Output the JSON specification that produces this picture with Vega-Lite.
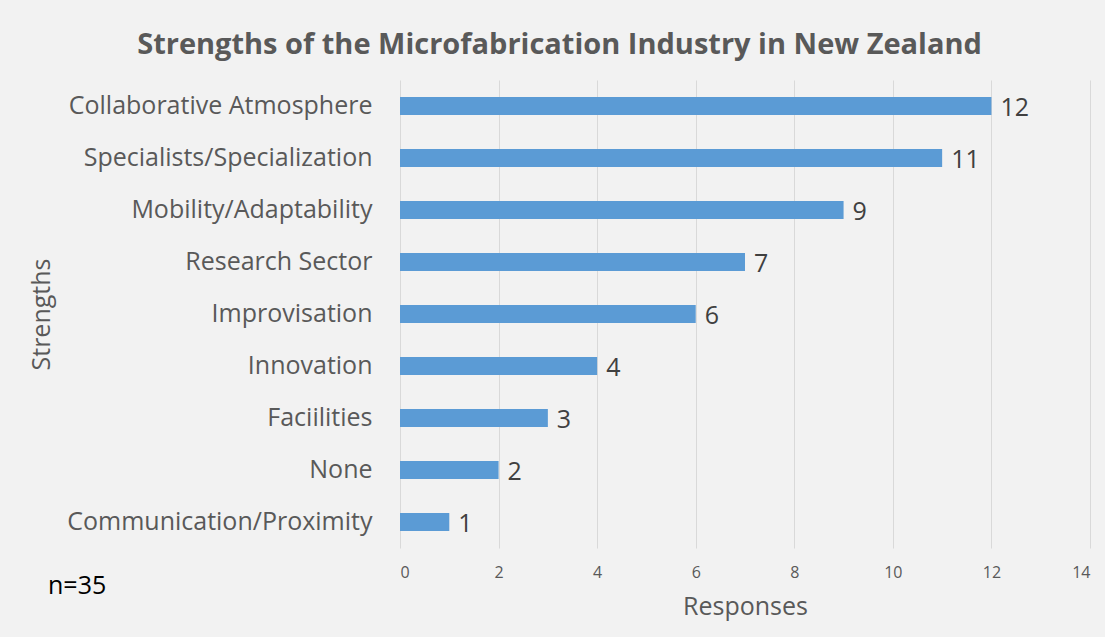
{
  "$schema": "https://vega.github.io/schema/vega-lite/v6.json",
  "background": "#f2f2f2",
  "padding": {"left": 29, "top": 31, "right": 15, "bottom": 20},
  "title": {
    "text": "Strengths of the Microfabrication Industry in New Zealand",
    "font": "Open Sans",
    "fontSize": 29,
    "fontWeight": "bold",
    "color": "#595959",
    "anchor": "middle",
    "frame": "bounds",
    "offset": 20
  },
  "vconcat": [
    {
      "width": 690,
      "height": 468,
      "title": {
        "text": "n=35",
        "orient": "bottom",
        "anchor": "start",
        "frame": "bounds",
        "font": "Open Sans",
        "fontSize": 25,
        "fontWeight": "normal",
        "color": "#000000",
        "offset": 0,
        "dx": 19,
        "dy": -45
      },
      "data": {
        "values": [
          {"strength": "Collaborative Atmosphere", "responses": 12},
          {"strength": "Specialists/Specialization", "responses": 11},
          {"strength": "Mobility/Adaptability", "responses": 9},
          {"strength": "Research Sector", "responses": 7},
          {"strength": "Improvisation", "responses": 6},
          {"strength": "Innovation ", "responses": 4},
          {"strength": "Faciilities", "responses": 3},
          {"strength": "None", "responses": 2},
          {"strength": "Communication/Proximity", "responses": 1}
        ]
      },
      "encoding": {
        "y": {
          "field": "strength",
          "type": "nominal",
          "sort": {"field": "responses", "order": "descending"},
          "scale": {"paddingInner": 0.65, "paddingOuter": 0.325},
          "axis": {
            "title": "Strengths",
            "titleFont": "Open Sans",
            "titleFontSize": 25,
            "titleFontWeight": "normal",
            "titleColor": "#595959",
            "titleX": -346,
            "titleY": 234,
            "titleAngle": -90,
            "titleAlign": "center",
            "titleBaseline": "bottom",
            "labelFont": "Open Sans",
            "labelFontSize": 25,
            "labelColor": "#595959",
            "labelPadding": 28,
            "labelLimit": 500,
            "ticks": false,
            "domain": false,
            "grid": false
          }
        },
        "x": {
          "field": "responses",
          "type": "quantitative",
          "scale": {"domain": [0, 14], "nice": false},
          "axis": {
            "title": "Responses",
            "titleFont": "Open Sans",
            "titleFontSize": 25,
            "titleFontWeight": "normal",
            "titleColor": "#595959",
            "titlePadding": 14,
            "labelFont": "Open Sans",
            "labelFontSize": 16,
            "labelColor": "#595959",
            "labelPadding": 16,
            "values": [0, 2, 4, 6, 8, 10, 12, 14],
            "ticks": false,
            "domain": false,
            "grid": true,
            "gridColor": "#d9d9d9",
            "gridWidth": 1
          }
        }
      },
      "layer": [
        {"mark": {"type": "bar", "color": "#5b9bd5"}},
        {
          "mark": {
            "type": "text",
            "align": "left",
            "baseline": "middle",
            "dx": 9,
            "dy": 2,
            "font": "Open Sans",
            "fontSize": 25,
            "color": "#404040"
          },
          "encoding": {"text": {"field": "responses", "type": "quantitative"}}
        }
      ]
    }
  ],
  "config": {"view": {"stroke": null}}
}
